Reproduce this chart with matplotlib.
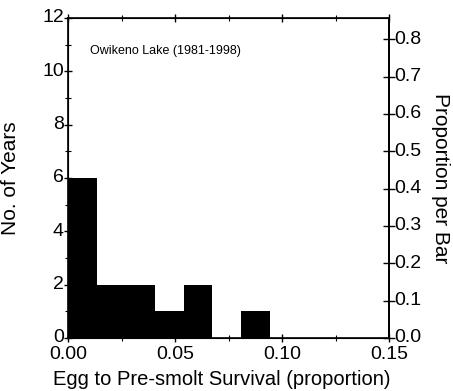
import matplotlib
matplotlib.use("Agg")
import matplotlib.pyplot as plt
from matplotlib.ticker import MultipleLocator
from matplotlib.transforms import ScaledTranslation
import numpy as np

plt.rcParams['font.family'] = ['Liberation Sans', 'DejaVu Sans']

# Histogram of egg to pre-smolt survival, Owikeno Lake
bin_width = 0.0135
counts = [6, 2, 2, 1, 2, 0, 1]
n_years = sum(counts)
bin_edges = np.arange(len(counts) + 1) * bin_width

fig = plt.figure(figsize=(4.53, 3.91), dpi=100)
ax = fig.add_axes([68 / 453, 1 - 338 / 391, (389 - 68) / 453, (338 - 18) / 391])

ax.stairs(counts, bin_edges, fill=True, color='black', linewidth=0)

ax.set_xlim(0, 0.15)
ax.set_ylim(0, 12)
ax.xaxis.set_major_locator(MultipleLocator(0.05))
ax.xaxis.set_minor_locator(MultipleLocator(0.025))
ax.yaxis.set_major_locator(MultipleLocator(2))
ax.yaxis.set_minor_locator(MultipleLocator(1))
ax.set_xticklabels([f"{v:.2f}" for v in ax.get_xticks()])
ax.tick_params(axis='both', which='major', direction='inout', length=6, width=1,
               labelsize=14, pad=0)
ax.tick_params(axis='both', which='minor', direction='inout', length=4, width=0.8)
ax.tick_params(axis='x', which='both', top=True)
ax.tick_params(axis='x', which='major', pad=3)
for s in ax.spines.values():
    s.set_linewidth(1.2)

# nudge the count labels slightly upward
lift = ScaledTranslation(0, 1.5 / 72, fig.dpi_scale_trans)
for lbl in ax.get_yticklabels():
    lbl.set_transform(lbl.get_transform() + lift)

ax.set_xlabel("Egg to Pre-smolt Survival (proportion)", fontsize=14.5)
ax.xaxis.set_label_coords(0.48, -0.1)
ax.set_ylabel("No. of Years", fontsize=15)
ax.yaxis.set_label_coords(-0.15, 0.5)

ax.text(0.0102, 10.76, "Owikeno Lake (1981-1998)", fontsize=9, va='center',
        ha='left')

# Right axis: proportion of years per bar
ax2 = ax.twinx()
ax2.set_ylim(0, 12 / n_years)
ax2.yaxis.set_major_locator(MultipleLocator(0.1))
ax2.set_yticklabels([f"{v:.1f}" for v in ax2.get_yticks()])
ax2.tick_params(axis='y', direction='inout', length=8, width=1, labelsize=14, pad=0)
for lbl in ax2.get_yticklabels():
    lbl.set_transform(lbl.get_transform() + lift)
ax2.spines['right'].set_linewidth(1.4)
ax2.set_ylabel("Proportion per Bar", fontsize=15, rotation=-90, labelpad=20)

fig.savefig("out.png", dpi=100)
